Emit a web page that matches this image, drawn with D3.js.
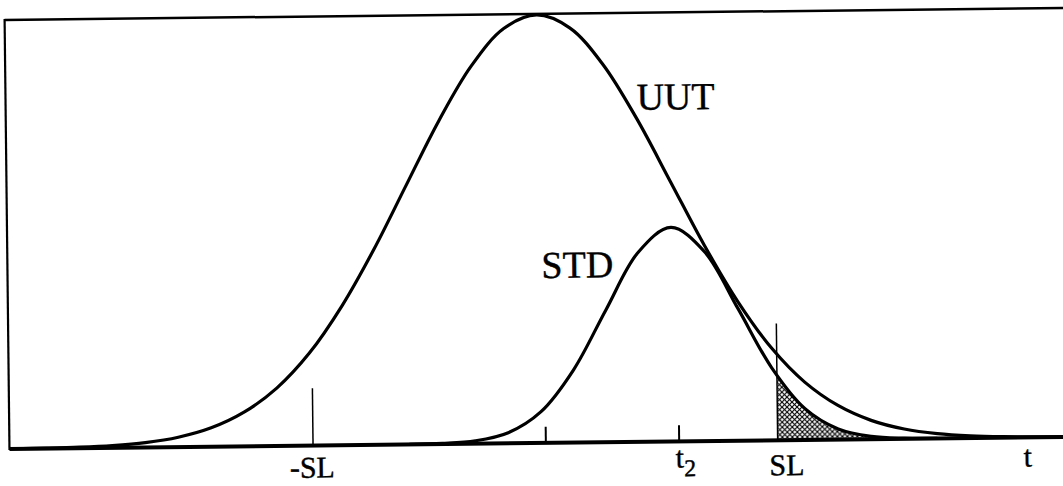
<!DOCTYPE html>
<html>
<head>
<meta charset="utf-8">
<script src="https://cdn.jsdelivr.net/npm/d3@7"></script>
<style>
  html, body { margin: 0; padding: 0; background: #fff; }
  svg { display: block; }
</style>
</head>
<body>
<svg id="chart" width="1063" height="486"></svg>
<script>
// ---- data (t in units of the UUT standard deviation) ----
const tGrid = [-4, -3.75, -3.5, -3.25, -3, -2.75, -2.5, -2.25, -2, -1.75, -1.5, -1.25, -1, -0.75, -0.5, -0.25,
               0, 0.25, 0.5, 0.75, 1, 1.25, 1.5, 1.75, 2, 2.25, 2.5, 2.75, 3, 3.25, 3.5, 3.75, 4];
const uutValues = [0.0003, 0.0009, 0.0022, 0.0051, 0.0111, 0.0228, 0.0439, 0.0796, 0.135, 0.216, 0.325, 0.458, 0.607, 0.755, 0.882, 0.969,
                   1.0, 0.969, 0.882, 0.755, 0.607, 0.458, 0.325, 0.216, 0.135, 0.0796, 0.0439, 0.0228, 0.0111, 0.0051, 0.0022, 0.0009, 0.0003];
const stdT = [-1, -0.75, -0.5, -0.25, 0, 0.25, 0.5, 0.75, 1, 1.25, 1.5, 1.75, 2, 2.25, 2.5, 2.75, 3];
const stdValues = [0.0002, 0.0014, 0.0066, 0.0248, 0.0731, 0.170, 0.309, 0.443, 0.5, 0.443, 0.309, 0.170, 0.0731, 0.0248, 0.0066, 0.0014, 0.0002];
const limitNames = ["-SL", "SL"];
const limitValues = [-1.73, 1.79];
const limitHeights = [0.134, 0.273];
const tickNames = ["", "t2"];
const tickValues = [0.03, 1.04];
const curveNames = ["UUT", "STD"];

// ---- layout ----
const FONT = "Liberation Serif";
const svg = d3.select("#chart");
const g = svg.append("g").attr("transform", "rotate(-0.65, 532, 228)");

const x = d3.scaleLinear().domain([-4.03, 3.97]).range([7, 1063]);
const y = d3.scaleLinear().domain([0, 1]).range([443, 15]);

// hatch pattern
const defs = svg.append("defs");
const pat = defs.append("pattern").attr("id", "hatch").attr("patternUnits", "userSpaceOnUse")
  .attr("width", 5).attr("height", 5);
pat.append("rect").attr("width", 5).attr("height", 5).attr("fill", "#fff");
pat.append("path").attr("d", "M0,0 L5,5 M-1,4 L1,6 M4,-1 L6,1").attr("stroke", "#000").attr("stroke-width", 1.1);
pat.append("path").attr("d", "M5,0 L0,5 M-1,1 L1,-1 M4,6 L6,4").attr("stroke", "#000").attr("stroke-width", 1.1);

defs.append("clipPath").attr("id", "tailclip").append("rect")
  .attr("x", x(limitValues[1])).attr("y", 0).attr("width", 400).attr("height", 500);
defs.append("clipPath").attr("id", "plotclip").append("rect")
  .attr("x", 7).attr("y", 0).attr("width", 1100).attr("height", 444);

const uutData = tGrid.map((t, i) => ({ t, v: uutValues[i] }));
const stdData = stdT.map((t, i) => ({ t, v: stdValues[i] }));

const line = d3.line().x(d => x(d.t)).y(d => y(d.v)).curve(d3.curveCatmullRom.alpha(0.5));
const area = d3.area().x(d => x(d.t)).y0(y(0)).y1(d => y(d.v)).curve(d3.curveCatmullRom.alpha(0.5));

// hatched tail of STD beyond SL
g.append("path").datum(stdData).attr("d", area).attr("fill", "url(#hatch)")
  .attr("clip-path", "url(#tailclip)");

// frame: top and left
g.append("line").attr("x1", 7).attr("x2", 1075).attr("y1", 14).attr("y2", 14)
  .attr("stroke", "#000").attr("stroke-width", 2.5);
g.append("line").attr("x1", 7).attr("x2", 7).attr("y1", 13).attr("y2", 444)
  .attr("stroke", "#000").attr("stroke-width", 2.2);

// curves
const cg = g.append("g").attr("clip-path", "url(#plotclip)");
cg.append("path").datum(uutData).attr("d", line).attr("fill", "none").attr("stroke", "#000").attr("stroke-width", 3.2);
cg.append("path").datum(stdData).attr("d", line).attr("fill", "none").attr("stroke", "#000").attr("stroke-width", 3.2);

// limit lines
limitValues.forEach((v, i) => {
  g.append("line").attr("x1", x(v)).attr("x2", x(v)).attr("y1", y(limitHeights[i])).attr("y2", y(0))
    .attr("stroke", "#000").attr("stroke-width", 1.5);
});

// axis
const axis = d3.axisTop(x).tickValues(tickValues).tickSize(16).tickFormat("");
const ag = g.append("g").attr("transform", `translate(0,${y(0)})`).call(axis);
ag.select(".domain").remove();
ag.selectAll(".tick line").attr("stroke", "#000").attr("stroke-width", 2);
g.append("line").attr("x1", 7).attr("x2", 1075).attr("y1", y(0)).attr("y2", y(0))
  .attr("stroke", "#000").attr("stroke-width", 4);

// labels
function label(tx, ty, size, str, anchor) {
  return g.append("text").attr("x", tx).attr("y", ty).attr("font-size", size)
    .attr("font-family", FONT).attr("fill", "#000").attr("stroke", "#000").attr("stroke-width", 0.4)
    .attr("text-anchor", anchor || "start").text(str);
}
label(638, 111, 38, curveNames[0]);
label(541, 278, 38, curveNames[1]);
label(x(limitValues[0]) - 1, 475, 30, limitNames[0], "middle");
label(x(limitValues[1]) + 9, 478, 30, limitNames[1], "middle");
const t2 = g.append("text").attr("x", 673).attr("y", 469).attr("font-size", 30).attr("font-family", FONT)
  .attr("stroke", "#000").attr("stroke-width", 0.4);
t2.append("tspan").text("t");
t2.append("tspan").attr("dy", 9).attr("font-size", 24).text("2");
label(1021, 472, 30, "t");
</script>
</body>
</html>
